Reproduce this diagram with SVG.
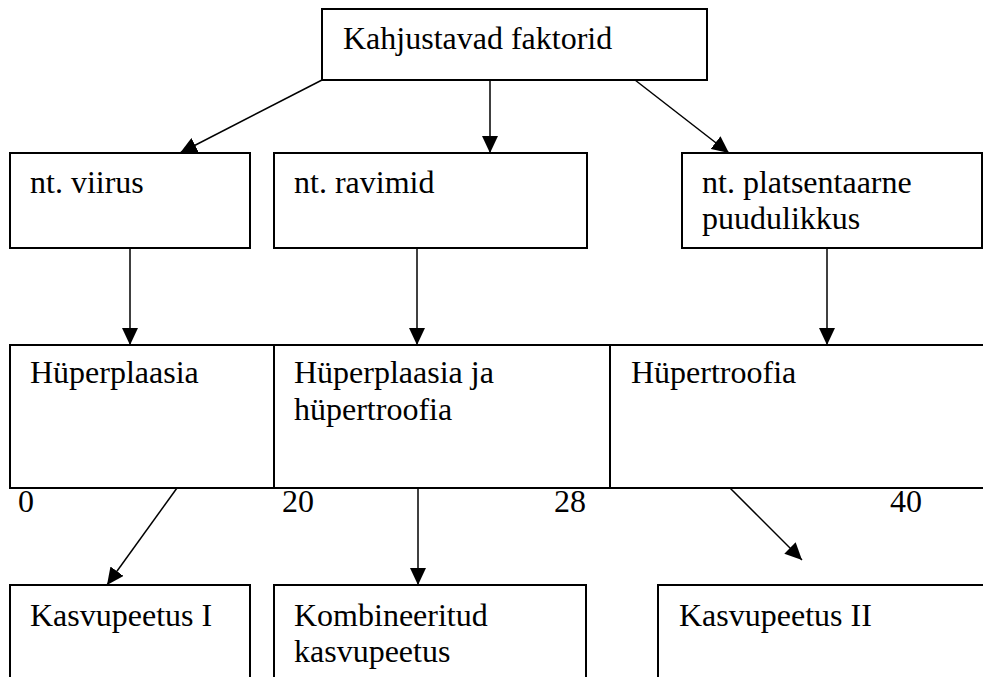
<svg xmlns="http://www.w3.org/2000/svg" width="983" height="677" viewBox="0 0 983 677">
<style>
.box{fill:#fff;stroke:#000;stroke-width:2}
.t{font-family:'Times New Roman','Liberation Serif','DejaVu Serif','Noto Serif',Tinos,serif;font-size:32px;fill:#000}
.c{stroke:#000;stroke-width:1.5;fill:none;marker-end:url(#arr)}
</style>
<defs>
<marker id="arr" markerUnits="userSpaceOnUse" markerWidth="18" markerHeight="16" refX="17" refY="8" orient="auto">
<path d="M0,0 L17,8 L0,16 Z" fill="#000"/>
</marker>
</defs>
<rect width="983" height="677" fill="#fff"/>
<g id="connectors">
<line class="c" x1="322" y1="80" x2="180" y2="153"/>
<line class="c" x1="490" y1="80" x2="490" y2="153"/>
<line class="c" x1="635" y1="80" x2="729" y2="153"/>
<line class="c" x1="130" y1="248" x2="130" y2="345"/>
<line class="c" x1="417" y1="248" x2="417" y2="345"/>
<line class="c" x1="827" y1="248" x2="827" y2="345"/>
<line class="c" x1="177" y1="488" x2="107" y2="585"/>
<line class="c" x1="418" y1="488" x2="418" y2="585"/>
<line class="c" x1="730" y1="488" x2="802" y2="560"/>
</g>
<g id="n-top"><rect class="box" x="322" y="9" width="385" height="71"/><text class="t" x="343" y="49">Kahjustavad faktorid</text></g>
<g id="n-viirus"><rect class="box" x="10" y="153" width="240" height="95"/><text class="t" x="30" y="193">nt. viirus</text></g>
<g id="n-ravimid"><rect class="box" x="274" y="153" width="313" height="95"/><text class="t" x="294" y="193">nt. ravimid</text></g>
<g id="n-plats"><rect class="box" x="682" y="153" width="300" height="95"/><text class="t" x="702" y="193">nt. platsentaarne</text><text class="t" x="702" y="229">puudulikkus</text></g>
<g id="n-hyperplaasia"><rect class="box" x="10" y="345" width="264" height="143"/><text class="t" x="30" y="383">Hüperplaasia</text></g>
<g id="n-hyperboth"><rect class="box" x="274" y="345" width="336" height="143"/><text class="t" x="294" y="383">Hüperplaasia ja</text><text class="t" x="294" y="420">hüpertroofia</text></g>
<g id="n-hypertroofia"><rect class="box" x="610" y="345" width="380" height="143"/><text class="t" x="631" y="383">Hüpertroofia</text></g>
<g id="labels">
<text class="t" x="18" y="512">0</text>
<text class="t" x="282" y="512">20</text>
<text class="t" x="554" y="512">28</text>
<text class="t" x="890" y="512">40</text>
</g>
<g id="n-kasv1"><rect class="box" x="10" y="585" width="240" height="100"/><text class="t" x="30" y="626">Kasvupeetus I</text></g>
<g id="n-komb"><rect class="box" x="274" y="585" width="312" height="100"/><text class="t" x="294" y="626">Kombineeritud</text><text class="t" x="294" y="662">kasvupeetus</text></g>
<g id="n-kasv2"><rect class="box" x="658" y="585" width="340" height="100"/><text class="t" x="679" y="626">Kasvupeetus II</text></g>
</svg>
